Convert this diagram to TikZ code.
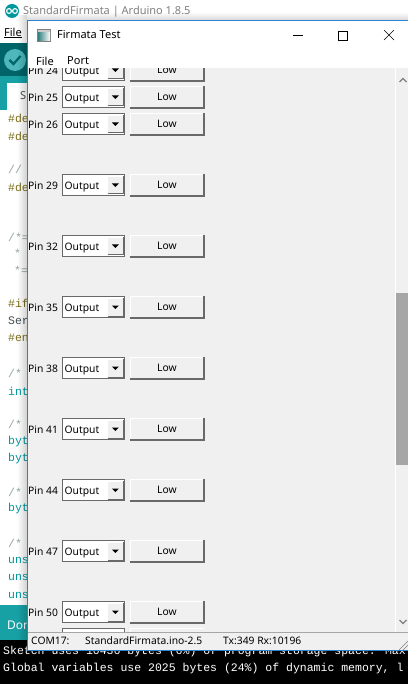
\documentclass[tikz,border=0pt]{standalone}
\usepackage{fontspec}
\setmainfont{Noto Sans}
\newfontfamily\monofont{Liberation Mono}
\usetikzlibrary{positioning,fadings}

\definecolor{ardlogo}{HTML}{00979D}
\definecolor{ardbar}{HTML}{006468}
\definecolor{ardtab}{HTML}{17A1A5}
\definecolor{ardcheck}{HTML}{4DB7BB}
\definecolor{cpre}{HTML}{7A6E1A}
\definecolor{ccom}{HTML}{95A5A6}
\definecolor{ctype}{HTML}{00979C}
\definecolor{cplain}{HTML}{434F54}
\definecolor{winbg}{HTML}{F0F0F0}
\definecolor{winborder}{HTML}{2B82D0}
\definecolor{btndark}{HTML}{696969}
\definecolor{thumb}{HTML}{A6A6A6}

\tikzfading[name=fadeleft, left color=transparent!100, right color=transparent!82]
\tikzfading[name=fadetop, top color=transparent!100, bottom color=transparent!85]

\begin{document}
\begin{tikzpicture}[x=1pt,y=-1pt,
    code/.style={font=\monofont\fontsize{11.5}{11.5}\selectfont,anchor=west,inner sep=0pt},
    ui/.style={font=\fontsize{10.3}{10.3}\selectfont,inner sep=0pt,text=black},
    combo/.style={fill=white,draw=btndark,line width=1pt,minimum width=62pt,minimum height=21pt,inner sep=0pt},
    dropbtn/.style={fill=winbg,minimum width=15pt,minimum height=17pt,inner sep=0pt},
    lowbtn/.style={ui,fill=winbg,minimum width=74pt,minimum height=22pt}]
\useasboundingbox (0,0) rectangle (408,684);
\clip (0,0) rectangle (408,684);

% Arduino IDE behind
\fill[white] (0,0) rectangle (408,43);
\node[circle,fill=ardlogo,minimum size=14pt,inner sep=0pt] (logo) at (12,11) {};
\draw[white,line width=1.1pt] (9,11) circle (2.4) (15,11) circle (2.4);
\node[anchor=west,inner sep=0pt,text=gray,font=\fontsize{11}{11}\selectfont] (ardtitle) at (23,12) {StandardFirmata | Arduino 1.8.5};
\node[anchor=west,inner sep=0pt,font=\fontsize{11}{11}\selectfont] (ardfile) at (4,33) {\underline{File}};
\fill[ardbar] (0,43) rectangle (408,76);
\fill[ardcheck] (15,60) circle (11);
\draw[ardbar,line width=2.2pt] (9.5,60) -- (13.5,64) -- (20.5,56);
\fill[ardtab] (0,76) rectangle (408,110);
\fill[white] (7,83) rectangle (200,110);
\node[anchor=west,inner sep=0pt,text=cplain,font=\fontsize{11}{11}\selectfont] (ardtabname) at (20,96) {S};
\fill[white] (0,110) rectangle (408,605);
\foreach \x/\y/\t/\c in {8/118/\#de/cpre, 8/136/\#de/cpre, 8/169/\slash\slash/ccom,
    8/187/\#de/cpre, 8/237/\slash*=/ccom, 14/253/*/ccom, 14/270/*=/ccom,
    8/303/\#if/cpre, 8/321/Ser/cplain, 8/338/\#en/cpre, 8/373/\slash*/ccom,
    8/391/int/ctype, 8/424/\slash*/ccom, 8/442/byt/ctype, 8/459/byt/ctype,
    8/492/\slash*/ccom, 8/509/byt/ctype, 8/543/\slash*/ccom, 8/560/uns/ctype,
    8/577/uns/ctype, 8/595/uns/ctype}
  \node[code,text=\c] at (\x,\y) {\t};
\fill[ardtab] (0,605) rectangle (408,640);
\node[anchor=west,inner sep=0pt,text=white,font=\fontsize{12}{12}\selectfont] (ardstatus) at (7,625) {Don};
\fill[black] (0,640) rectangle (408,684);
\node[code,text=white] (console1) at (3,652) {Sketch uses 10436 bytes (6\%) of program storage space. Max};
\node[code,text=white] (console2) at (3,669) {Global variables use 2025 bytes (24\%) of dynamic memory, l};

% shadow of the Firmata window
\fill[black,path fading=fadeleft] (17,14) rectangle (27,651);
\fill[black,path fading=fadetop] (27,12) rectangle (408,20);

% Firmata Test window
\fill[winbg] (27,68) rectangle (408,632);
\foreach \p/\y in {24/70,25/97,26/124,29/185,32/246,35/307,38/368,41/429,44/490,47/551,50/612} {
  \node[ui,anchor=west] (pin\p) at (28,\y+1) {Pin \p};
  \node[combo] (mode\p) at (93,\y) {};
  \node[ui,anchor=west] at ([xshift=3pt,yshift=-1.8pt]mode\p.west) {Output};
  \node[dropbtn,anchor=east] (drop\p) at ([xshift=-1.5pt]mode\p.east) {};
  \draw[white] (drop\p.south west) -- (drop\p.north west) -- (drop\p.north east);
  \draw[btndark] (drop\p.south west) -- (drop\p.south east) -- (drop\p.north east);
  \fill (drop\p.center) ++(-3.5,-1.5) -- ++(7,0) -- ++(-3.5,3.5) -- cycle;
  \node[lowbtn] (btn\p) at (167,\y) {Low};
  \draw[white] (btn\p.south west) -- (btn\p.north west) -- (btn\p.north east);
  \draw[btndark,line width=1.5pt] (btn\p.south west) -- (btn\p.south east) -- (btn\p.north east);
}
% next row, only its top edge shows
\node[combo] (mode51) at (93,639) {};
\node[lowbtn] (btn51) at (167,639) {};
\draw[white] (btn51.south west) -- (btn51.north west) -- (btn51.north east);
% scroll bar
\fill[winbg] (395,68) rectangle (408,632);
\draw[white] (395.5,68) -- (395.5,632);
\fill[thumb] (396,293) rectangle (408,465);
\draw[gray,line width=1.3pt] (399.5,82) -- (403,78.5) -- (406.5,82);
\draw[gray,line width=1.3pt] (399.5,620) -- (403,623.5) -- (406.5,620);

% title bar and menu
\fill[white] (27,20) rectangle (408,68);
\draw[gray] (37.5,29.5) rectangle (50.5,41.5);
\fill[left color=teal!60!gray,right color=white] (38,32) rectangle (50,41);
\fill[gray!40] (38,30) rectangle (50,32);
\node[anchor=west,inner sep=0pt,font=\fontsize{11}{11}\selectfont] (wintitle) at (57,35) {Firmata Test};
\draw (293,35.5) -- (303,35.5);
\draw (338.5,31.5) rectangle (347.5,40.5);
\draw (384,30) -- (394,40) (384,40) -- (394,30);
\node[anchor=west,inner sep=0pt,font=\fontsize{11}{11}\selectfont] (menufile) at (36,61) {File};
\node[anchor=west,inner sep=0pt,font=\fontsize{11}{11}\selectfont] (menuport) at (67,61) {Port};

% status bar
\fill[winbg] (27,632) rectangle (408,651);
\draw[gray!70] (27,632.5) -- (408,632.5);
\node[ui,anchor=west] (stport) at (31,641) {COM17:};
\node[ui,anchor=west] (stfirm) at (85,641) {StandardFirmata.ino-2.5};
\node[ui,anchor=west] (sttxrx) at (223,641) {Tx:349 Rx:10196};
\draw[gray] (399,650) -- (408,641) (403,650) -- (408,645);
\draw[winborder] (27.5,651) -- (27.5,20.5) -- (408,20.5);
\draw[winborder] (27,650.5) -- (408,650.5);
\end{tikzpicture}
\end{document}
